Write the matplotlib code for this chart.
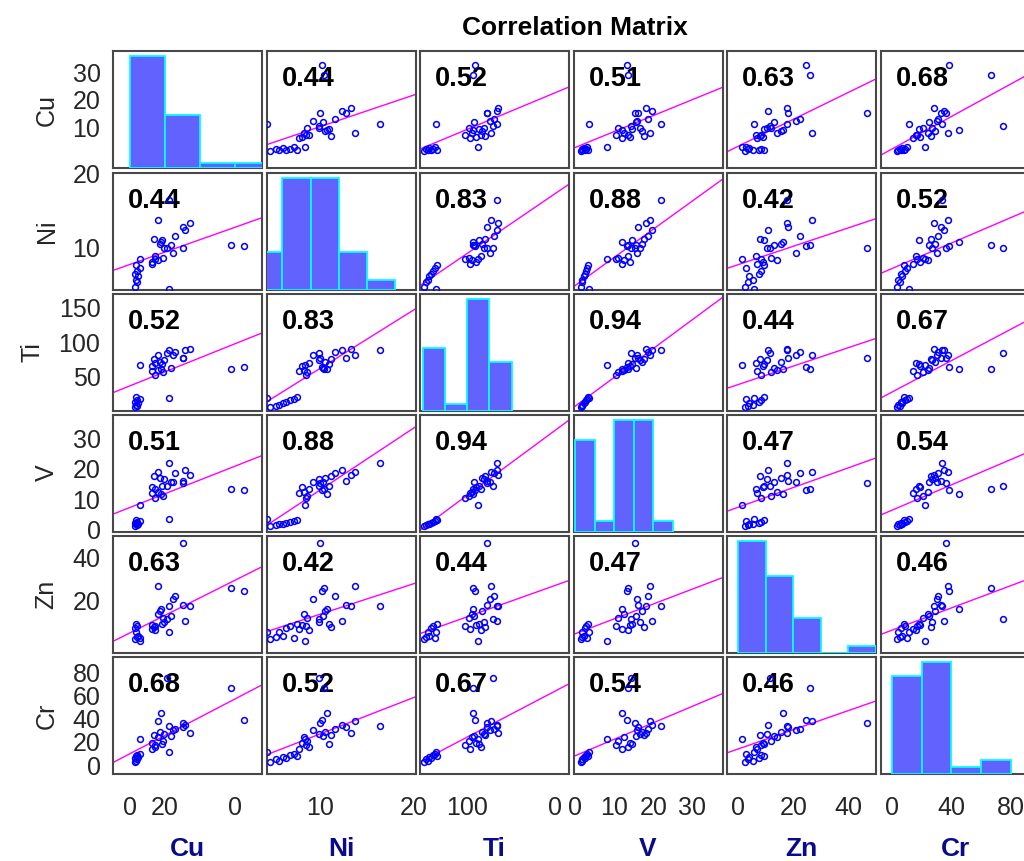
import numpy as np
import matplotlib.pyplot as plt

plt.rcParams['font.family'] = ['Liberation Sans', 'DejaVu Sans']

names = ['Cu', 'Ni', 'Ti', 'V', 'Zn', 'Cr']

# 33 samples, one list per element
cu = [1.5, 2.0, 1.8, 2.4, 1.6, 2.2, 2.8, 1.9, 11.1, 2.8,
      6.3, 7.2, 6.4, 9.6, 7.2, 8.1, 9.9, 11.8, 12.3, 9.3, 8.7, 13.0, 6.8, 15.9, 15.3, 17.2, 8.0,
      11.1, 15.1, 32.7, 29.0, 10.5, 9.0]
ni = [4.7, 5.3, 5.6, 6.1, 6.4, 6.8, 7.2, 7.6, 4.4, 8.4,
      7.8, 8.5, 8.1, 8.6, 8.8, 8.3, 9.9, 10.3, 9.3, 11.0, 10.5, 11.6, 11.2, 12.4, 12.8, 13.3, 13.7,
      16.4, 10.0, 10.2, 10.4, 9.9, 10.8]
ti = [6, 8, 10, 12, 14, 16, 18, 21, 19.5, 66.5,
      58, 52, 65, 57, 70, 60, 74, 63, 81, 68, 72, 85, 75, 88, 77, 90, 82,
      88, 76.7, 63.6, 61.7, 83.8, 61]
v = [1.3, 1.6, 1.8, 2.1, 2.4, 2.7, 3.0, 3.3, 3.5, 8.0,
     12.0, 10.5, 14.0, 11.0, 13.5, 12.5, 16.5, 15.5, 15.8, 14.5, 17.0, 18.5, 17.5, 19.5, 16.0, 18.0, 19.0,
     22.0, 15.2, 13.2, 13.5, 14.3, 11.9]
zn = [2.5, 3.5, 5.5, 4.0, 7.5, 8.5, 3.0, 9.5, 5.9, 1.5,
      7.0, 8.5, 9.0, 12.0, 6.5, 14.0, 10.5, 13.0, 21.0, 9.5, 15.5, 22.4, 8.0, 10.7, 18.0, 17.9, 26.7,
      17.7, 46.7, 24.5, 26.1, 11.5, 16.4]
cr = [3, 5, 4, 7, 6, 9, 10, 8, 11.3, 22.4,
      14, 17, 19, 21, 16, 24, 27, 25, 30, 18, 29, 31, 26, 35, 33, 28, 38,
      33.6, 36.4, 38.5, 66.5, 74.7, 45.3]

corr = [[1.00, 0.44, 0.52, 0.51, 0.63, 0.68],
        [0.44, 1.00, 0.83, 0.88, 0.42, 0.52],
        [0.52, 0.83, 1.00, 0.94, 0.44, 0.67],
        [0.51, 0.88, 0.94, 1.00, 0.47, 0.54],
        [0.63, 0.42, 0.44, 0.47, 1.00, 0.46],
        [0.68, 0.52, 0.67, 0.54, 0.46, 1.00]]

limits = [(-4.8, 37.8), (4.3, 20.2), (1.4, 170), (-0.5, 37.7), (-4, 50), (-7.5, 93)]
bins = [[0, 10, 20, 30, 40], [3, 6, 9, 12, 15, 18], [5, 30, 55, 80, 105],
        [0, 5, 10, 15, 20, 25], [0, 10, 20, 30, 40, 50], [0, 20, 40, 60, 80]]
yticks = [[10, 20, 30], [10, 20], [50, 100, 150], [0, 10, 20, 30], [20, 40], [0, 20, 40, 60, 80]]
xticks = [[0, 10, 30], [10, 20], [55, 154], [0, 10, 20, 30], [0, 20, 40], [0, 40, 80]]
xticklabels = [['0', '20', '0'], ['10', '20'], ['100', '0'], ['0', '10', '20', '30'],
               ['0', '20', '40'], ['0', '40', '80']]

data = [np.array(a, dtype=float) for a in (cu, ni, ti, v, zn, cr)]
n = len(names)

W, H = 1024, 861
col_x = [113, 266.5, 420, 573.5, 727, 881]
row_y = [51, 172.5, 293.5, 414.5, 536, 657]
aw, ah = 149, 117

fig = plt.figure(figsize=(W / 100, H / 100), dpi=100)
frame = '#484848'
tick_color = '#262626'

for i in range(n):
    for j in range(n):
        ax = fig.add_axes([col_x[j] / W, 1 - (row_y[i] + ah) / H, aw / W, ah / H])
        ax.set_xlim(limits[j])
        ax.set_ylim(limits[i])
        for s in ax.spines.values():
            s.set_color(frame)
            s.set_linewidth(1.5)
        ax.tick_params(length=0, labelsize=18, labelcolor=tick_color, pad=9)

        if i == j:
            # histogram on the diagonal, own count scale
            hx = ax.twinx()
            counts, _, _ = hx.hist(data[i], bins=bins[i], facecolor='#6262ff',
                                   edgecolor='#00ffff', linewidth=1.3)
            hx.set_ylim(0, counts.max() / 0.957)
            hx.set_yticks([])
            for s in hx.spines.values():
                s.set_visible(False)
        else:
            x, y = data[j], data[i]
            r = corr[i][j]
            slope = r * y.std() / x.std()
            ax.axline((x.mean(), y.mean()), slope=slope, color='#ff00ff', lw=1.0, zorder=2)
            ax.text(0.1, 0.76, f'{r:.2f}', transform=ax.transAxes, fontsize=19.5,
                    fontweight='bold', color='black', va='center', ha='left', zorder=3)
            ax.plot(x, y, 'o', ms=4.2, mfc='none', mec='#0000ff', mew=1.1, zorder=4)

        if j == 0:
            ax.set_yticks(yticks[i])
            ax.set_ylabel(names[i], fontsize=18, color=tick_color, labelpad=10)
        else:
            ax.set_yticks([])
        if i == n - 1:
            ax.set_xticks(xticks[j])
            ax.set_xticklabels(xticklabels[j])
            ax.tick_params(axis='x', pad=16)
            ax.set_xlabel(names[j], fontsize=19, fontweight='bold', color='#0a0a8c', labelpad=12)
        else:
            ax.set_xticks([])

fig.text(575 / W, 1 - 28 / H, 'Correlation Matrix', ha='center', va='center',
         fontsize=19, fontweight='bold')

fig.savefig('out.png', dpi=100)
